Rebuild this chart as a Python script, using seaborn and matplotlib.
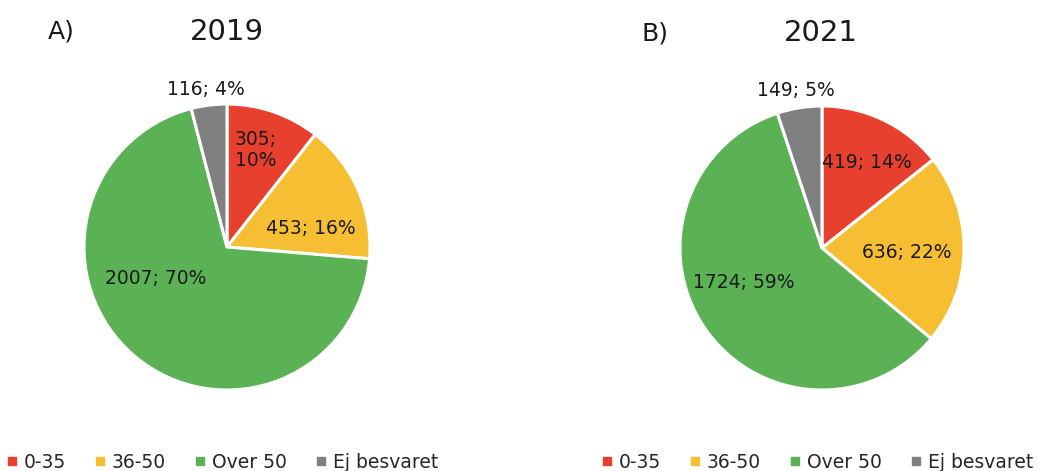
import matplotlib
matplotlib.use("Agg")
import matplotlib.pyplot as plt
from matplotlib.lines import Line2D
import seaborn as sns

categories = ["0-35", "36-50", "Over 50", "Ej besvaret"]
values_2019 = [305, 453, 2007, 116]
pct_2019 = [10, 16, 70, 4]
values_2021 = [419, 636, 1724, 149]
pct_2021 = [14, 22, 59, 5]
titles = ["2019", "2021"]
panel_tags = ["A)", "B)"]

sns.set_theme(style="white")
plt.rcParams["font.family"] = ["DejaVu Sans"]
colors = ["#E8402F", "#F6BF33", "#5AB255", "#808080"]

W, H = 1050, 471
fig = plt.figure(figsize=(W / 100, H / 100), dpi=100)


def make_ax(cx, cy, r):
    pad = 1.25
    half = r * pad
    ax = fig.add_axes([(cx - half) / W, (H - cy - half) / H, 2 * half / W, 2 * half / H])
    ax.set_xlim(-pad, pad)
    ax.set_ylim(-pad, pad)
    ax.set_aspect("equal")
    ax.axis("off")
    return ax


def px(cx, cy, r, x, y):
    return (x - cx) / r, (cy - y) / r


panels = [
    dict(cx=227, cy=247, r=143, vals=values_2019, pcts=pct_2019,
         labpos=[(256, 150), (311, 229), (156, 278), (206, 90)],
         multiline=[True, False, False, False],
         title_xy=(227, 32), tag_xy=(61, 31), leg_x=6),
    dict(cx=822, cy=248, r=142, vals=values_2021, pcts=pct_2021,
         labpos=[(867, 163), (907, 253), (744, 282), (796, 90)],
         multiline=[False, False, False, False],
         title_xy=(821, 33), tag_xy=(655, 33), leg_x=601),
]

for p, title, tag in zip(panels, titles, panel_tags):
    ax = make_ax(p["cx"], p["cy"], p["r"])
    ax.pie(p["vals"], colors=colors, startangle=90, counterclock=False, radius=1.0,
           wedgeprops=dict(edgecolor="white", linewidth=2.2))
    for (lx, ly), v, pc, ml in zip(p["labpos"], p["vals"], p["pcts"], p["multiline"]):
        sep = ";\n" if ml else "; "
        x, y = px(p["cx"], p["cy"], p["r"], lx, ly)
        ax.text(x, y, f"{v}{sep}{pc}%", ha="center", va="center", fontsize=13.5,
                color="#1a1a1a", linespacing=1.1)
    fig.text(p["title_xy"][0] / W, 1 - p["title_xy"][1] / H, title, ha="center", va="center",
             fontsize=21, color="#1a1a1a")
    fig.text(p["tag_xy"][0] / W, 1 - p["tag_xy"][1] / H, tag, ha="center", va="center",
             fontsize=18, color="#1a1a1a")
    handles = [Line2D([0], [0], marker="s", linestyle="", markersize=5.5,
                      markerfacecolor=c, markeredgecolor=c) for c in colors]
    fig.legend(handles, categories, loc="center left",
               bbox_to_anchor=(p["leg_x"] / W, 1 - 462 / H), ncol=4, frameon=False,
               fontsize=13.5, handlelength=0.6, handletextpad=0.35, columnspacing=1.5,
               borderpad=0, borderaxespad=0)

fig.savefig("out.png", dpi=100, facecolor="white")
